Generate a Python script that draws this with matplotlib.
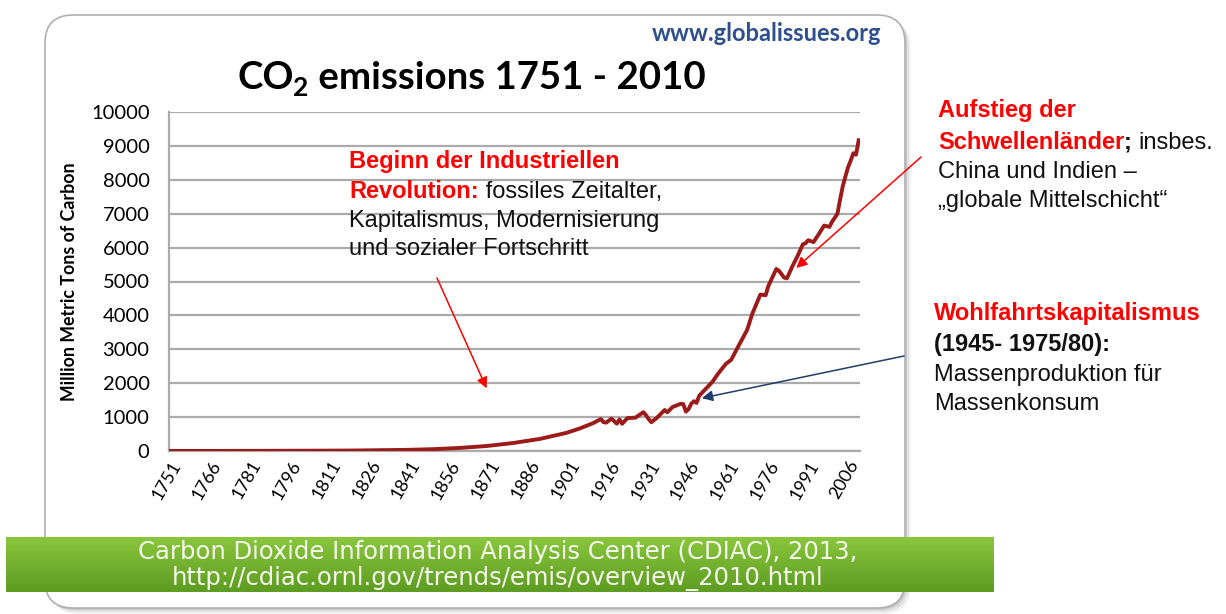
import numpy as np
import matplotlib as mpl
import matplotlib.pyplot as plt
from matplotlib.patches import FancyBboxPatch

mpl.use("Agg")

# global CO2 emissions, million metric tons of carbon
years = [1751, 1770, 1790, 1800, 1810, 1820, 1830, 1840, 1850, 1860, 1870, 1880,
         1890, 1900, 1905, 1910, 1913, 1914, 1915, 1917, 1919, 1920, 1921, 1923,
         1926, 1929, 1930, 1931, 1932, 1934, 1936, 1937, 1938, 1940, 1943, 1944,
         1945, 1946, 1947, 1948, 1949, 1950, 1952, 1955, 1957, 1960, 1962, 1965,
         1968, 1970, 1973, 1975, 1976, 1979, 1980, 1982, 1983, 1985, 1987, 1989,
         1990, 1991, 1993, 1995, 1997, 1999, 2000, 2002, 2003, 2004, 2005, 2006,
         2007, 2008, 2009, 2010]
emissions = [3, 3, 6, 8, 10, 14, 24, 33, 54, 91, 147, 236,
             356, 534, 663, 819, 943, 850, 838, 955, 806, 932, 803, 970,
             983, 1145, 1053, 940, 850, 973, 1130, 1209, 1142, 1299, 1391, 1383,
             1160, 1238, 1392, 1469, 1419, 1630, 1795, 2042, 2270, 2569, 2686, 3130,
             3566, 4053, 4614, 4596, 4864, 5369, 5315, 5113, 5094, 5439, 5752, 6097,
             6127, 6217, 6162, 6398, 6651, 6610, 6765, 6996, 7416, 7807, 8093, 8370,
             8566, 8783, 8740, 9167]

tick_years = list(range(1751, 2010, 15))
y_ticks = list(range(0, 10001, 1000))

W, H = 1226, 614
fig = plt.figure(figsize=(W / 100, H / 100), dpi=100)
fig.patch.set_facecolor("white")


def fx(px):
    return px / W


def fy(py):
    return 1 - py / H


# rounded white card with soft shadow (behind the axes)
for off, a in [(6, 0.10), (4, 0.15), (2, 0.25)]:
    sh = FancyBboxPatch((0.45 + off / 100, 0.06 - off / 100), 8.6, 5.93,
                        boxstyle="round,pad=0,rounding_size=0.28",
                        transform=fig.dpi_scale_trans, facecolor="#808080",
                        edgecolor="none", alpha=a, zorder=-3)
    fig.patches.append(sh)
card = FancyBboxPatch((0.45, 0.06), 8.6, 5.93,
                      boxstyle="round,pad=0,rounding_size=0.28",
                      transform=fig.dpi_scale_trans, facecolor="white",
                      edgecolor="#b0b0b0", lw=1.2, zorder=-2)
fig.patches.append(card)

# the chart
ax = fig.add_axes([fx(169), fy(451), fx(860) - fx(169), fy(112) - fy(451)])
ax.set_facecolor("none")
ax.plot(years, emissions, color="#9c1a1a", lw=2.8, solid_joinstyle="round", zorder=3)
ax.set_xlim(1750.5, 2010.5)
ax.set_ylim(0, 10000)
ax.set_yticks(y_ticks)
ax.set_yticklabels([str(v) for v in y_ticks], family="Lato", fontsize=14.5)
ax.set_xticks(tick_years)
ax.set_xticklabels([str(v) for v in tick_years], family="Lato", fontsize=13,
                   rotation=60, ha="right", rotation_mode="anchor")
ax.tick_params(axis="both", length=0, colors="black")
ax.tick_params(axis="y", pad=14)
ax.tick_params(axis="x", pad=5)
ax.grid(axis="y", color="#ababab", lw=1.6)
ax.set_axisbelow(True)
for s in ["top", "right"]:
    ax.spines[s].set_visible(False)
ax.spines["left"].set_color("#ababab")
ax.spines["bottom"].set_color("#ababab")
ax.spines["left"].set_linewidth(1.6)
ax.spines["bottom"].set_linewidth(1.6)
ax.set_ylabel("Million Metric Tons of Carbon", family="Lato", fontweight="bold",
              fontsize=12.8, labelpad=9)

renderer = fig.canvas.get_renderer()


def rich(x, y, parts, size=17, family="Liberation Sans"):
    # parts: (text, color, weight, size or None, dy)
    for p in parts:
        text, color, weight = p[:3]
        sz = p[3] if len(p) > 3 and p[3] else size
        dy = p[4] if len(p) > 4 else 0
        t = fig.text(fx(x), fy(y + dy), text, color=color, fontweight=weight,
                     fontsize=sz, family=family, va="baseline", ha="left")
        x = t.get_window_extent(renderer=renderer).x1


# header texts
fig.text(fx(881), fy(41), "www.globalissues.org", color="#2d4f8e", fontweight="bold",
         fontsize=17, family="Lato", ha="right", va="baseline")
rich(237, 89, [("CO", "black", "bold"), ("2", "black", "bold", 19, 7),
               (" emissions 1751 - 2010", "black", "bold")], size=27.6, family="Lato")

# annotations
red = "#ff0000"
ink = "#111111"
rich(349, 168, [("Beginn der Industriellen", red, "bold")])
rich(349, 198, [("Revolution:", red, "bold"), (" fossiles Zeitalter,", ink, "normal")])
rich(349, 227, [("Kapitalismus, Modernisierung", ink, "normal")])
rich(349, 255, [("und sozialer Fortschritt", ink, "normal")])

rich(938, 117, [("Aufstieg der", red, "bold")])
rich(938, 149, [("Schwellenländer", red, "bold"), ("; ", ink, "bold"),
                ("insbes.", ink, "normal")])
rich(938, 178, [("China und Indien –", ink, "normal")])
rich(938, 207, [("„globale Mittelschicht“", ink, "normal")])

rich(934, 320, [("Wohlfahrtskapitalismus", red, "bold")])
rich(934, 351, [("(1945- 1975/80):", ink, "bold")])
rich(934, 381, [("Massenproduktion für", ink, "normal")])
rich(934, 410, [("Massenkonsum", ink, "normal")])

ax.annotate("", xy=(1870, 1850), xycoords="data",
            xytext=(437, H - 278), textcoords="figure pixels",
            arrowprops=dict(arrowstyle="-|>", color=red, lw=1.1, mutation_scale=16,
                            shrinkA=0, shrinkB=0), annotation_clip=False)
ax.annotate("", xy=(1986.5, 5400), xycoords="data",
            xytext=(921, H - 157), textcoords="figure pixels",
            arrowprops=dict(arrowstyle="-|>", color=red, lw=1.1, mutation_scale=16,
                            shrinkA=0, shrinkB=0), annotation_clip=False)
ax.annotate("", xy=(1951, 1560), xycoords="data",
            xytext=(904, H - 356), textcoords="figure pixels",
            arrowprops=dict(arrowstyle="-|>", color="#1f3d6b", lw=1.1, mutation_scale=16,
                            shrinkA=0, shrinkB=0), annotation_clip=False)

# green source banner
bax = fig.add_axes([fx(6), fy(592), fx(994) - fx(6), fy(537) - fy(592)], zorder=5)
grad = np.linspace(0, 1, 64).reshape(-1, 1)
green = mpl.colors.LinearSegmentedColormap.from_list("g", ["#8ac63c", "#5e9c22"])
bax.imshow(grad, aspect="auto", cmap=green, extent=[0, 1, 0, 1], origin="upper")
bax.set_axis_off()
for txt, by in [("Carbon Dioxide Information Analysis Center (CDIAC), 2013,", 559),
                ("http://cdiac.ornl.gov/trends/emis/overview_2010.html", 585)]:
    fig.text(fx(498), fy(by), txt, color="#f4f8ee", fontsize=17.5, family="DejaVu Sans",
             ha="center", va="baseline", zorder=6)

fig.savefig("out.png", dpi=100)
